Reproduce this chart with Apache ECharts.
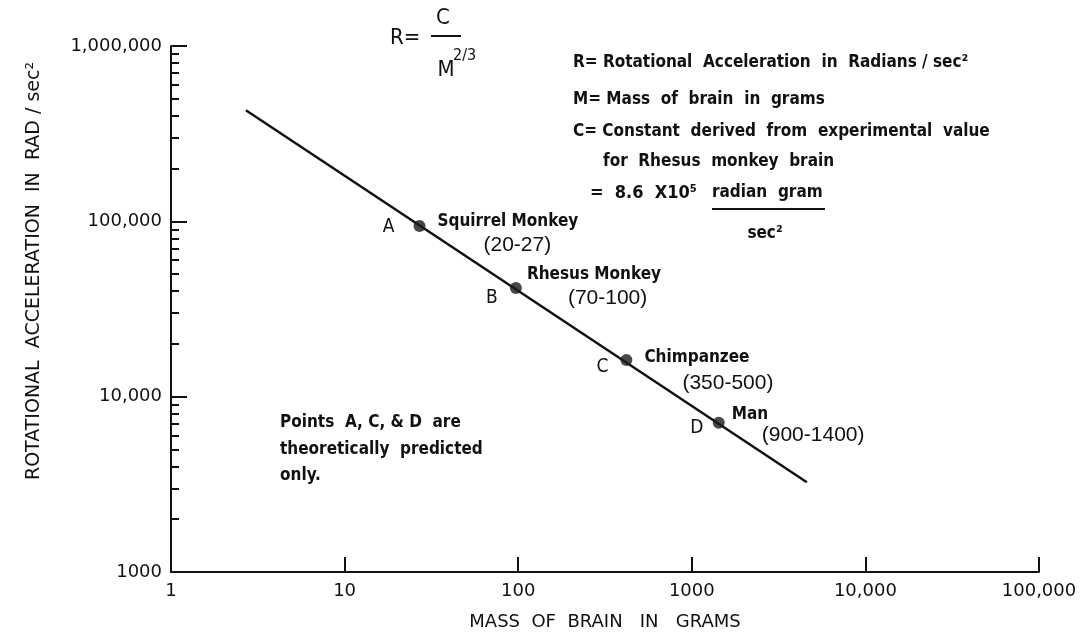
<!DOCTYPE html>
<html>
<head>
<meta charset="utf-8">
<script src="https://cdn.jsdelivr.net/npm/echarts@6/dist/echarts.min.js"></script>
<style>
  html, body { margin: 0; padding: 0; background: #fff; }
  #chart { width: 1082px; height: 641px; }
</style>
</head>
<body>
<div id="chart"></div>
<script>
// Rotational acceleration tolerated vs. brain mass, log–log scale.
const xTickValues = [1, 10, 100, 1000, 10000, 100000];
const xTickLabels = ['1', '10', '100', '1000', '10,000', '100,000'];
const yTickValues = [1000, 10000, 100000, 1000000];
const yTickLabels = ['1000', '10,000', '100,000', '1,000,000'];

// R = C / M^(2/3) drawn as a straight segment between its end points
const lineMass = [2.7, 4600];
const lineAccel = [430000, 3250];

// Marked species
const pointLetters = ['A', 'B', 'C', 'D'];
const pointNames = ['Squirrel Monkey', 'Rhesus Monkey', 'Chimpanzee', 'Man'];
const massRanges = ['(20-27)', '(70-100)', '(350-500)', '(900-1400)'];
const pointMass = [27, 97, 420, 1430];
const pointAccel = [94000, 41700, 16200, 7100];

// ---- styling ----
const INK = '#111111';
const HAND = '"DejaVu Sans Condensed", "DejaVu Sans", sans-serif';
const WIDE = '"DejaVu Sans", sans-serif';
const PLAIN = '"Liberation Sans", Arial, sans-serif';

// label placement around each dot, in pixels from the dot centre
const nameOffsets = [[18, -4], [11, -13], [18, -2], [13, -8]];
const rangeOffsets = [[64, 19], [52, 10], [56, 23], [43, 12]];
const letterOffsets = [[-31, 1], [-24, 10], [-24, 7], [-22, 5]];

const yMinorTicks = [];
for (let d = 1000; d < 1000000; d *= 10) {
  for (let k = 2; k <= 9; k++) yMinorTicks.push(k * d);
}

function tickText(values, labels) {
  return function (v) {
    for (let i = 0; i < values.length; i++) {
      if (Math.abs(Math.log10(v) - Math.log10(values[i])) < 1e-6) return labels[i];
    }
    return '';
  };
}

const chart = echarts.init(document.getElementById('chart'), null, { renderer: 'canvas' });

const pointData = pointMass.map((m, i) => [m, pointAccel[i]]);
const HALF = 1; // half of the helper symbol size

function labelSeries(texts, offsets, align, font, weight, size) {
  return {
    type: 'scatter',
    xAxisIndex: 0, yAxisIndex: 0,
    symbol: 'circle',
    symbolSize: HALF * 2,
    itemStyle: { color: 'rgba(255,255,255,0)' },
    silent: true,
    z: 5,
    data: pointData.map((p, i) => ({
      value: p,
      label: {
        show: true,
        position: [HALF + offsets[i][0], HALF + offsets[i][1]],
        align: align,
        verticalAlign: 'middle',
        formatter: texts[i],
        color: INK,
        opacity: 1,
        textBorderWidth: 0,
        fontFamily: font,
        fontWeight: weight,
        fontSize: size
      }
    }))
  };
}

function text(x, y, str, opts) {
  opts = opts || {};
  return {
    type: 'text',
    x: x, y: y,
    rotation: opts.rotation || 0,
    z: 10,
    style: {
      text: str,
      fill: INK,
      font: (opts.weight || 'bold') + ' ' + (opts.size || 17) + 'px ' + (opts.family || HAND),
      textAlign: opts.align || 'left',
      textVerticalAlign: 'middle'
    }
  };
}

function rule(x1, y1, x2, y2, w) {
  return {
    type: 'line', z: 10,
    shape: { x1: x1, y1: y1, x2: x2, y2: y2 },
    style: { stroke: INK, lineWidth: w || 2 }
  };
}

const option = {
  animation: false,
  backgroundColor: '#ffffff',
  grid: { left: 171, right: 43, top: 46, bottom: 69, containLabel: false },
  xAxis: [{
    type: 'log', logBase: 10, min: 1, max: 100000,
    name: 'MASS  OF  BRAIN   IN   GRAMS',
    nameLocation: 'middle',
    nameGap: 41,
    nameTextStyle: { color: INK, fontFamily: WIDE, fontSize: 18, fontWeight: 'normal' },
    axisLine: { show: true, lineStyle: { color: INK, width: 2 } },
    axisTick: { show: true, inside: true, length: 15, lineStyle: { color: INK, width: 2 },
      customValues: xTickValues.slice(1) },
    axisLabel: { show: true, margin: 10, color: INK, fontFamily: WIDE, fontSize: 18,
      customValues: xTickValues, formatter: tickText(xTickValues, xTickLabels) },
    splitLine: { show: false },
    minorTick: { show: false }
  }],
  yAxis: [{
    type: 'log', logBase: 10, min: 1000, max: 1000000,
    position: 'left', offset: 0,
    axisLine: { show: true, lineStyle: { color: INK, width: 2 } },
    axisTick: { show: true, inside: true, length: 16, lineStyle: { color: INK, width: 2 },
      customValues: yTickValues.slice(1) },
    axisLabel: { show: true, margin: 9, color: INK, fontFamily: WIDE, fontSize: 18,
      customValues: yTickValues, formatter: tickText(yTickValues, yTickLabels) },
    splitLine: { show: false }
  }, {
    type: 'log', logBase: 10, min: 1000, max: 1000000,
    position: 'left', offset: 0,
    axisLine: { show: false },
    axisTick: { show: true, inside: true, length: 8, lineStyle: { color: INK, width: 2 },
      customValues: yMinorTicks },
    axisLabel: { show: false },
    splitLine: { show: false }
  }],
  series: [
    {
      type: 'line',
      xAxisIndex: 0, yAxisIndex: 0,
      data: lineMass.map((m, i) => [m, lineAccel[i]]),
      symbol: 'none',
      lineStyle: { color: INK, width: 2.5 },
      silent: true,
      z: 2
    },
    {
      type: 'scatter',
      xAxisIndex: 0, yAxisIndex: 0,
      symbol: 'circle',
      symbolSize: 12,
      itemStyle: { color: '#1a1a1a' },
      data: pointData,
      z: 3
    },
    labelSeries(pointNames, nameOffsets, 'left', HAND, 'bold', 17),
    labelSeries(massRanges, rangeOffsets, 'left', PLAIN, 'normal', 21),
    labelSeries(pointLetters, letterOffsets, 'center', HAND, 'normal', 19)
  ],
  graphic: [
    // vertical axis title
    text(34, 271, 'ROTATIONAL  ACCELERATION  IN  RAD / sec²',
      { rotation: Math.PI / 2, align: 'center', weight: 'normal', size: 19, family: WIDE }),

    // formula R = C / M^(2/3)
    text(390, 38, 'R=', { size: 22, weight: 'normal' }),
    text(443, 18, 'C', { size: 22, weight: 'normal', align: 'center' }),
    rule(431, 36, 461, 36, 2),
    text(446, 70, 'M', { size: 22, weight: 'normal', align: 'center' }),
    text(453, 56, '2/3', { size: 16, weight: 'normal' }),

    // definitions
    text(573, 63, 'R= Rotational  Acceleration  in  Radians / sec²'),
    text(573, 100, 'M= Mass  of  brain  in  grams'),
    text(573, 132, 'C= Constant  derived  from  experimental  value'),
    text(603, 162, 'for  Rhesus  monkey  brain'),
    text(590, 193, '=  8.6  X10⁵', { size: 18 }),
    text(712, 193, 'radian  gram'),
    rule(712, 209, 825, 209, 2),
    text(765, 234, 'sec²', { align: 'center' }),

    // note
    text(280, 423, 'Points  A, C, & D  are'),
    text(280, 450, 'theoretically  predicted'),
    text(280, 476, 'only.')
  ]
};

chart.setOption(option);
</script>
</body>
</html>
